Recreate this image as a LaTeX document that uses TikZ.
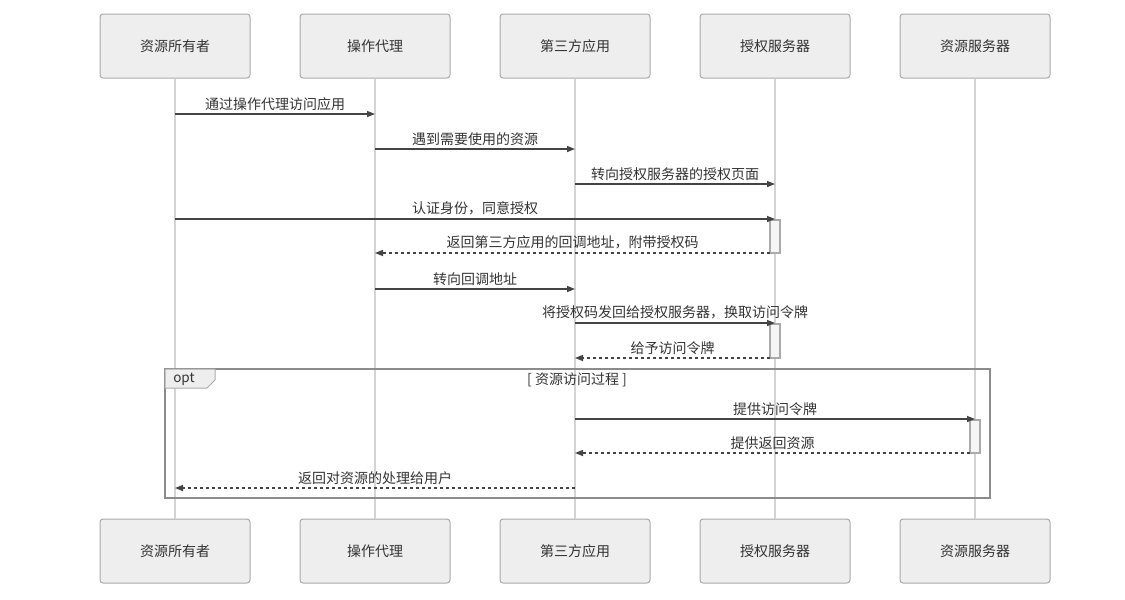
\documentclass[tikz,border=0pt]{standalone}
\usepackage{fontspec}
\setmainfont{Noto Sans CJK SC}
\usetikzlibrary{arrows.meta}
\definecolor{boxfill}{HTML}{EEEEEE}
\definecolor{boxdraw}{HTML}{AAAAAA}
\definecolor{lifec}{HTML}{D4D4D4}
\definecolor{msgc}{HTML}{444444}
\definecolor{txtc}{HTML}{333333}
\definecolor{framec}{HTML}{8C8C8C}
\definecolor{actfill}{HTML}{F5F5F5}
\tikzset{
  part/.style={draw=boxdraw, fill=boxfill, rounded corners=3pt, minimum width=150pt, minimum height=64pt, line width=1pt, text=txtc, font=\fontsize{14}{16}\selectfont},
  life/.style={draw=lifec, line width=1.5pt},
  msg/.style={draw=msgc, line width=1.4pt, -{Triangle[length=8pt,width=6pt]}},
  ret/.style={msg, dash pattern=on 3pt off 3pt},
  lbl/.style={above=2pt, text=txtc, font=\fontsize{14}{16}\selectfont, inner sep=1pt},
  act/.style={draw=boxdraw, fill=actfill, line width=1.2pt, minimum width=10pt, inner sep=0pt},
  frame/.style={draw=framec, line width=1.5pt},
  tabst/.style={draw=boxdraw, fill=boxfill, line width=1pt}
}
\begin{document}
\begin{tikzpicture}[x=1pt,y=-1pt]
\useasboundingbox (0,0) rectangle (1125,600);
% participants
\node[part] (t1) at (175,46) {资源所有者};
\node[part] (t2) at (375,46) {操作代理};
\node[part] (t3) at (575,46) {第三方应用};
\node[part] (t4) at (775,46) {授权服务器};
\node[part] (t5) at (975,46) {资源服务器};
\node[part] (b1) at (175,551) {资源所有者};
\node[part] (b2) at (375,551) {操作代理};
\node[part] (b3) at (575,551) {第三方应用};
\node[part] (b4) at (775,551) {授权服务器};
\node[part] (b5) at (975,551) {资源服务器};
\foreach \i in {1,...,5} {\draw[life] (t\i.south) -- (b\i.north);}
% opt frame
\draw[frame] (165,369) rectangle (990,498);
\draw[tabst] (165,369) -- (215,369) -- (215,380) -- (207,388) -- (165,388) -- cycle;
\node[text=txtc, font=\fontsize{13.5}{15}\selectfont, inner sep=0pt] (optl) at (184,379) {opt};
\node[text=txtc, font=\fontsize{14}{16}\selectfont, inner sep=0pt] (cond) at (577,380) {[ 资源访问过程 ]};
% activations
\node[act, minimum height=33pt] (a1) at (775,236.5) {};
\node[act, minimum height=34pt] (a2) at (775,341) {};
\node[act, minimum height=33pt] (a3) at (975,436.5) {};
% message endpoints
\coordinate (m1a) at (175,114); \coordinate (m1b) at (375,114);
\coordinate (m2a) at (375,149); \coordinate (m2b) at (575,149);
\coordinate (m3a) at (575,184); \coordinate (m3b) at (775,184);
\coordinate (m4a) at (175,219); \coordinate (m4b) at (775,219);
\coordinate (m5a) at (770,253); \coordinate (m5b) at (375,253);
\coordinate (m6a) at (375,289); \coordinate (m6b) at (575,289);
\coordinate (m7a) at (575,323); \coordinate (m7b) at (775,323);
\coordinate (m8a) at (770,358); \coordinate (m8b) at (575,358);
\coordinate (m9a) at (575,419); \coordinate (m9b) at (975,419);
\coordinate (m10a) at (970,453); \coordinate (m10b) at (575,453);
\coordinate (m11a) at (575,488); \coordinate (m11b) at (175,488);
\draw[msg] (m1a) -- node[lbl] {通过操作代理访问应用} (m1b);
\draw[msg] (m2a) -- node[lbl] {遇到需要使用的资源} (m2b);
\draw[msg] (m3a) -- node[lbl] {转向授权服务器的授权页面} (m3b);
\draw[msg] (m4a) -- node[lbl] {认证身份，同意授权} (m4b);
\draw[ret] (m5a) -- node[lbl] {返回第三方应用的回调地址，附带授权码} (m5b);
\draw[msg] (m6a) -- node[lbl] {转向回调地址} (m6b);
\draw[msg] (m7a) -- node[lbl] {将授权码发回给授权服务器，换取访问令牌} (m7b);
\draw[ret] (m8a) -- node[lbl] {给予访问令牌} (m8b);
\draw[msg] (m9a) -- node[lbl] {提供访问令牌} (m9b);
\draw[ret] (m10a) -- node[lbl] {提供返回资源} (m10b);
\draw[ret] (m11a) -- node[lbl] {返回对资源的处理给用户} (m11b);
\end{tikzpicture}
\end{document}
